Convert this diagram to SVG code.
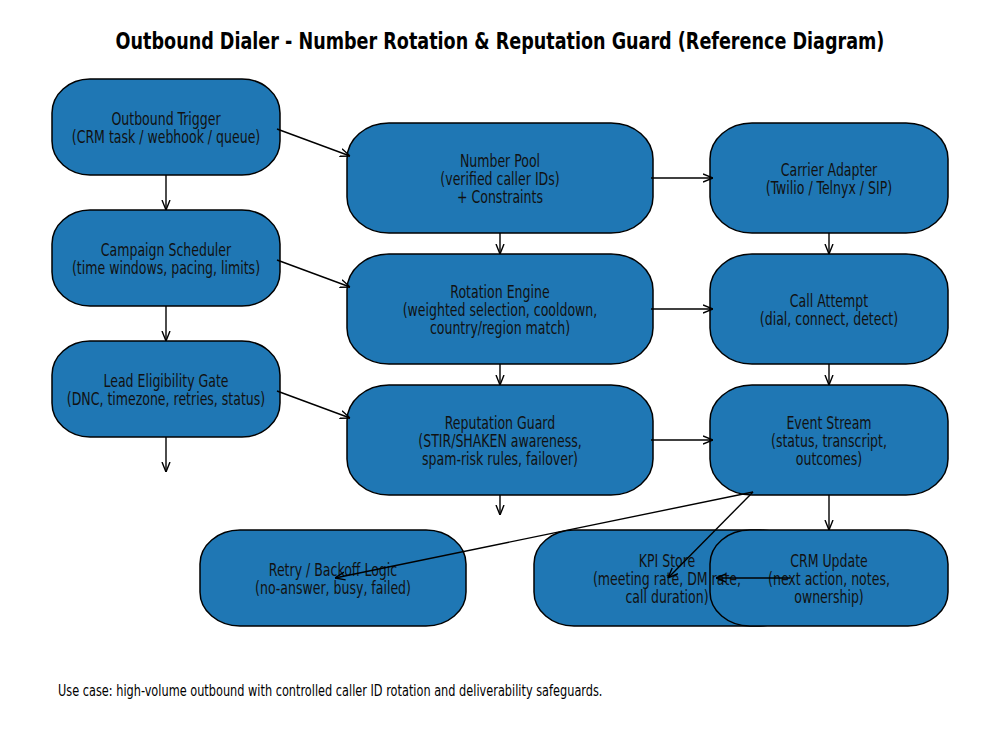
<svg xmlns="http://www.w3.org/2000/svg" width="1000" height="750" viewBox="0 0 1000 750">
<defs>
<marker id="ah" viewBox="0 0 10 10" refX="10" refY="5" markerWidth="10" markerHeight="10" markerUnits="userSpaceOnUse" orient="auto">
<path d="M0,1 L10,5 L0,9" fill="none" stroke="#000" stroke-width="1.4"/>
</marker>
<style>
.box{fill:#1f77b4;stroke:#000;stroke-width:1.5}
.t{font-family:"DejaVu Sans Condensed","DejaVu Sans",sans-serif;font-stretch:condensed;font-size:17px;fill:#111;text-anchor:middle}
.c{fill:none;stroke:#000;stroke-width:1.4;marker-end:url(#ah)}
.title{font-family:"DejaVu Sans Condensed","DejaVu Sans",sans-serif;font-stretch:condensed;font-weight:bold;font-size:23px;fill:#000;text-anchor:middle}
.foot{font-family:"DejaVu Sans Condensed","DejaVu Sans",sans-serif;font-stretch:condensed;font-size:15px;fill:#000}
</style>
</defs>
<rect width="1000" height="750" fill="#fff"/>
<g transform="matrix(0.85 0 0 1 75 0)"><text class="title" x="500" y="49">Outbound Dialer - Number Rotation &amp; Reputation Guard (Reference Diagram)</text></g>

<g id="n-trigger"><rect class="box" x="52" y="79" width="228" height="96" rx="38" ry="34"/>
<g transform="matrix(0.82 0 0 1 29.88 0)"><text class="t" x="166" y="125">Outbound Trigger</text><text class="t" x="166" y="143">(CRM task / webhook / queue)</text></g></g>
<g id="n-scheduler"><rect class="box" x="52" y="210" width="228" height="96" rx="38" ry="34"/>
<g transform="matrix(0.82 0 0 1 29.88 0)"><text class="t" x="166" y="256">Campaign Scheduler</text><text class="t" x="166" y="274">(time windows, pacing, limits)</text></g></g>
<g id="n-eligibility"><rect class="box" x="52" y="341" width="228" height="96" rx="38" ry="34"/>
<g transform="matrix(0.82 0 0 1 29.88 0)"><text class="t" x="166" y="387">Lead Eligibility Gate</text><text class="t" x="166" y="405">(DNC, timezone, retries, status)</text></g></g>

<g id="n-pool"><rect class="box" x="347" y="123" width="306" height="110" rx="42" ry="36"/>
<g transform="matrix(0.82 0 0 1 90 0)"><text class="t" x="500" y="167">Number Pool</text><text class="t" x="500" y="185">(verified caller IDs)</text><text class="t" x="500" y="203">+ Constraints</text></g></g>
<g id="n-rotation"><rect class="box" x="347" y="254" width="306" height="110" rx="42" ry="36"/>
<g transform="matrix(0.82 0 0 1 90 0)"><text class="t" x="500" y="298">Rotation Engine</text><text class="t" x="500" y="316">(weighted selection, cooldown,</text><text class="t" x="500" y="334">country/region match)</text></g></g>
<g id="n-reputation"><rect class="box" x="347" y="385" width="306" height="110" rx="42" ry="36"/>
<g transform="matrix(0.82 0 0 1 90 0)"><text class="t" x="500" y="429">Reputation Guard</text><text class="t" x="500" y="447">(STIR/SHAKEN awareness,</text><text class="t" x="500" y="465">spam-risk rules, failover)</text></g></g>

<g id="n-carrier"><rect class="box" x="710" y="123" width="238" height="110" rx="42" ry="36"/>
<g transform="matrix(0.82 0 0 1 149.22 0)"><text class="t" x="829" y="176">Carrier Adapter</text><text class="t" x="829" y="194">(Twilio / Telnyx / SIP)</text></g></g>
<g id="n-call"><rect class="box" x="710" y="254" width="238" height="110" rx="42" ry="36"/>
<g transform="matrix(0.82 0 0 1 149.22 0)"><text class="t" x="829" y="307">Call Attempt</text><text class="t" x="829" y="325">(dial, connect, detect)</text></g></g>
<g id="n-event"><rect class="box" x="710" y="385" width="238" height="110" rx="42" ry="36"/>
<g transform="matrix(0.82 0 0 1 149.22 0)"><text class="t" x="829" y="429">Event Stream</text><text class="t" x="829" y="447">(status, transcript,</text><text class="t" x="829" y="465">outcomes)</text></g></g>

<g id="n-retry"><rect class="box" x="200" y="530" width="266" height="96" rx="40" ry="34"/>
<g transform="matrix(0.82 0 0 1 59.94 0)"><text class="t" x="333" y="576">Retry / Backoff Logic</text><text class="t" x="333" y="594">(no-answer, busy, failed)</text></g></g>
<g id="n-kpi"><rect class="box" x="534" y="530" width="266" height="96" rx="40" ry="34"/></g>
<g id="n-crm"><rect class="box" x="710" y="530" width="238" height="96" rx="40" ry="34"/>
<g transform="matrix(0.82 0 0 1 149.22 0)"><text class="t" x="829" y="567">CRM Update</text><text class="t" x="829" y="585">(next action, notes,</text><text class="t" x="829" y="603">ownership)</text></g></g>
<g id="n-kpi-label" transform="matrix(0.82 0 0 1 120.06 0)"><text class="t" x="667" y="567">KPI Store</text><text class="t" x="667" y="585">(meeting rate, DM rate,</text><text class="t" x="667" y="603">call duration)</text></g>

<g id="connectors">
<line class="c" x1="277" y1="129" x2="350" y2="156"/>
<line class="c" x1="277" y1="260" x2="350" y2="287"/>
<line class="c" x1="277" y1="391" x2="350" y2="418"/>
<line class="c" x1="166" y1="175" x2="166" y2="210"/>
<line class="c" x1="166" y1="306" x2="166" y2="341"/>
<line class="c" x1="166" y1="437" x2="166" y2="472"/>
<line class="c" x1="500" y1="233" x2="500" y2="254"/>
<line class="c" x1="500" y1="364" x2="500" y2="385"/>
<line class="c" x1="500" y1="495" x2="500" y2="515"/>
<line class="c" x1="651" y1="178" x2="713" y2="178"/>
<line class="c" x1="651" y1="309" x2="713" y2="309"/>
<line class="c" x1="651" y1="440" x2="713" y2="440"/>
<line class="c" x1="829" y1="233" x2="829" y2="254"/>
<line class="c" x1="829" y1="364" x2="829" y2="385"/>
<line class="c" x1="829" y1="495" x2="829" y2="530"/>
<line class="c" x1="753" y1="492" x2="335" y2="578"/>
<line class="c" x1="753" y1="492" x2="668" y2="578"/>
<line class="c" x1="790" y1="578" x2="716" y2="578"/>
</g>
<g transform="matrix(0.84 0 0 1 9.28 0)"><text class="foot" x="58" y="696">Use case: high-volume outbound with controlled caller ID rotation and deliverability safeguards.</text></g>
</svg>
